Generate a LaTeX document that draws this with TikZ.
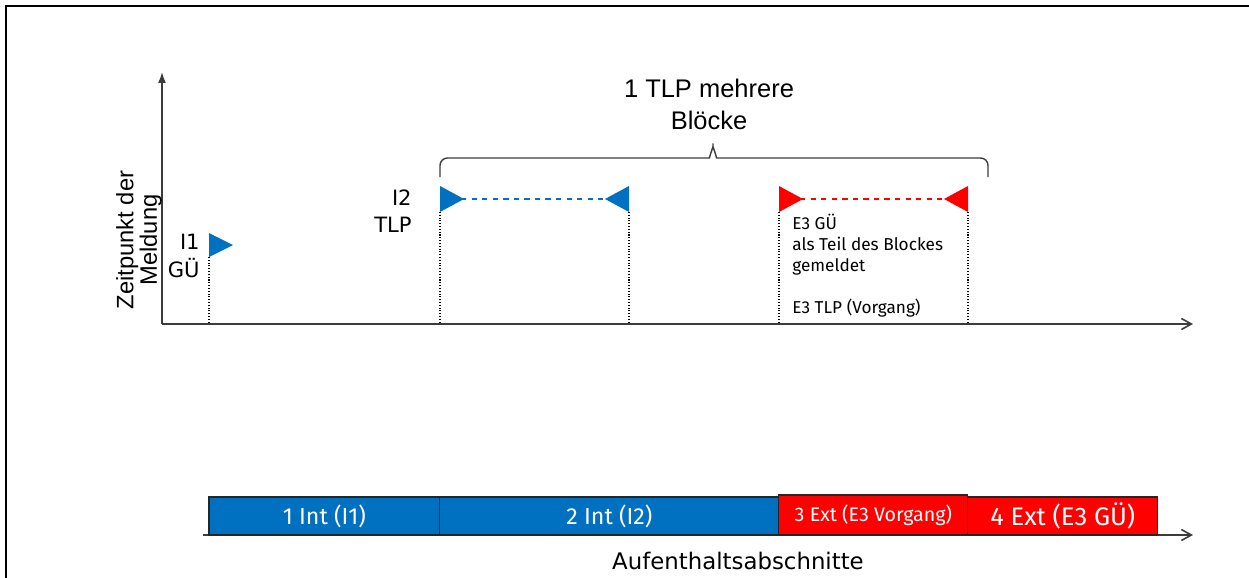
\documentclass[tikz,border=0pt]{standalone}
\usepackage{fontspec}
\setmainfont{Liberation Sans}
\newfontfamily\flagfont{DejaVu Sans}
\newfontfamily\barfont{Fira Sans}
\usetikzlibrary{arrows.meta}

\definecolor{intblue}{RGB}{0,112,192}
\definecolor{extred}{RGB}{255,0,0}
\definecolor{axisgray}{RGB}{60,60,60}

\begin{document}
\begin{tikzpicture}[x=0.02cm,y=-0.02cm,
  axis/.style={axisgray,line width=0.9pt},
  pole/.style={black,densely dotted,line width=0.6pt},
  span/.style={dashed,line width=0.7pt},
  bar/.style={draw=black!85,line width=0.6pt,text=white,inner sep=0pt,outer sep=0pt,
    anchor=south west,minimum height=0.76cm}]
\useasboundingbox (0,0) rectangle (1249,578);
\draw[black,line width=1.1pt] (1249,6) -| (6,578);

% time axis of the messages
\coordinate (o) at (162,324);
\coordinate (ytop) at (162,72);
\coordinate (xend) at (1193,324);
\draw[axis,-{Latex[length=2.2mm,width=1.6mm]}] (o) -- (ytop);
\draw[axis,-{Straight Barb[length=2mm,width=2.2mm]}] (o) -- (xend);
\node[rotate=90,align=center,font=\fontsize{13.5}{13.5}\selectfont] (ylabel) at (139,240) {Zeitpunkt der\\Meldung};

% flags and their poles
\coordinate (i1) at (209,245);
\coordinate (i2a) at (440,199);
\coordinate (i2b) at (629,199);
\coordinate (e3a) at (779,199);
\coordinate (e3b) at (968,199);
\draw[intblue,span] (i2a) -- (i2b);
\draw[extred,span] (e3a) -- (e3b);
\fill[intblue] (i1) ++(0,-12) -- ++(24,12) -- ++(-24,12) -- cycle;
\fill[intblue] (i2a) ++(0,-13) -- ++(24,13) -- ++(-24,13) -- cycle;
\fill[intblue] (i2b) ++(0,-13) -- ++(-24,13) -- ++(24,13) -- cycle;
\fill[extred] (e3a) ++(0,-13) -- ++(24,13) -- ++(-24,13) -- cycle;
\fill[extred] (e3b) ++(0,-13) -- ++(-24,13) -- ++(24,13) -- cycle;
\draw[pole] (i1) ++(0,12) -- (i1 |- o);
\draw[pole] (i2a) ++(0,13) -- (i2a |- o);
\draw[pole] (i2b) ++(0,13) -- (i2b |- o);
\draw[pole] (e3a) ++(0,13) -- (e3a |- o);
\draw[pole] (e3b) ++(0,13) -- (e3b |- o);

\node[anchor=east,align=right,inner sep=0pt,font=\flagfont\fontsize{12}{15.5}\selectfont] (i1lbl) at (200,256) {I1\\GÜ};
\node[anchor=east,align=right,inner sep=0pt,font=\flagfont\fontsize{12}{15}\selectfont] (i2lbl) at (412,211) {I2\\TLP};
\node[anchor=north west,align=left,inner sep=0pt,font=\barfont\fontsize{9.8}{11.9}\selectfont] (e3lbl) at (792,214)
  {E3 GÜ\\als Teil des Blockes\\gemeldet\\[11.9pt]E3 TLP (Vorgang)};

% brace over the block
\coordinate (brl) at (440,177);
\coordinate (brr) at (988,177);
\coordinate (brtip) at (713,139);
\draw[axisgray,line width=0.8pt,rounded corners=0.15cm] (brl) |- ++(262,-19)
  .. controls +(7,0) and +(0,8) .. (brtip)
  .. controls +(0,8) and +(-7,0) .. ++(11,19) -| (brr);
\node[align=center,inner sep=0pt,font=\fontsize{14.5}{18.1}\selectfont] (blocks) at (709,104) {1 TLP mehrere\\Blöcke};

% stay sections
\coordinate (t0) at (203,535);
\coordinate (tend) at (1193,535);
\draw[axis,-{Straight Barb[length=2mm,width=2.2mm]}] (t0) -- (tend);
\node[bar,fill=intblue,minimum width=4.62cm,font=\barfont\fontsize{13.2}{15}\selectfont] (int1) at (209,535) {1 Int (I1)};
\node[bar,fill=intblue,minimum width=6.78cm,font=\barfont\fontsize{13.2}{15}\selectfont] (int2) at (int1.south east) {2 Int (I2)};
\node[bar,fill=extred,minimum width=3.78cm,minimum height=0.8cm,font=\barfont\fontsize{11.2}{13}\selectfont] (ext3) at (int2.south east) {3 Ext (E3 Vorgang)};
\node[bar,fill=extred,minimum width=3.8cm,font=\barfont\fontsize{14.5}{16}\selectfont] (ext4) at (ext3.south east) {4 Ext (E3 GÜ)};
\node[anchor=base,font=\flagfont\fontsize{13}{16}\selectfont] (tlabel) at (738,569) {Aufenthaltsabschnitte};
\end{tikzpicture}
\end{document}
